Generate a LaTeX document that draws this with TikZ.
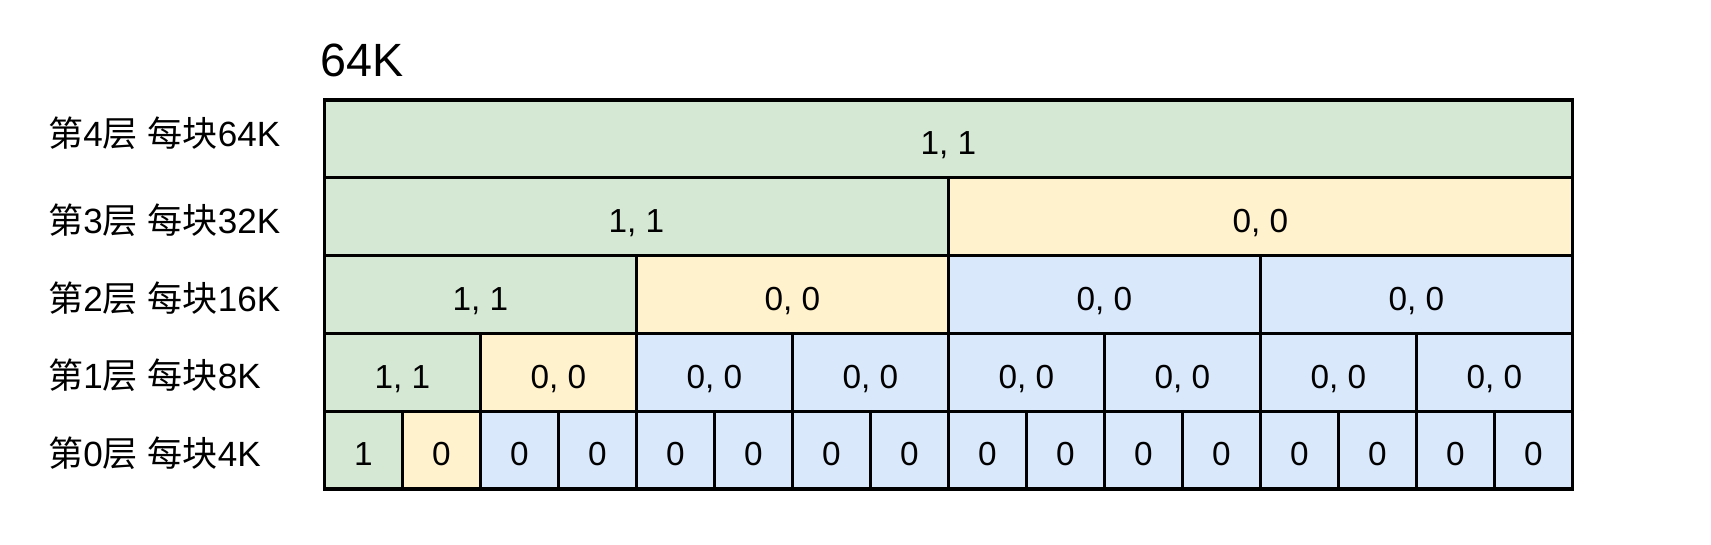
\documentclass[tikz,border=0pt]{standalone}
\usepackage{fontspec}
\setmainfont{Liberation Sans}
\newfontfamily\cjk{Noto Sans CJK SC}
\definecolor{cg}{HTML}{D5E8D4}
\definecolor{cy}{HTML}{FFF2CC}
\definecolor{cb}{HTML}{DAE8FC}
\begin{document}
\begin{tikzpicture}[x=0.75pt,y=-0.75pt]
\useasboundingbox (0,0) rectangle (1711,544);
\tikzset{
  cell/.style={draw=black, line width=2.5pt, minimum height=77.8*0.75pt, inner sep=0pt, outer sep=0pt},
  val/.style={inner sep=0pt, anchor=base, font=\fontsize{25}{30}\selectfont},
  lab/.style={inner sep=0pt, anchor=base west, font=\fontsize{26.3}{31}\selectfont},
  ttl/.style={inner sep=0pt, anchor=base west, font=\fontsize{35}{42}\selectfont}
}
\node[ttl] (title) at (320.5,76.7) {64K};
\foreach \L in {4,...,0} {
  \pgfmathtruncatemacro\n{2^(4-\L)}
  \pgfmathsetmacro\w{1248/\n}
  \pgfmathsetmacro\cyy{100+(4-\L)*77.8+38.9}
  \pgfmathtruncatemacro\last{\n-1}
  \foreach \i in {0,...,\last} {
    \ifnum\i=0 \def\cc{cg}\else\ifnum\i=1 \def\cc{cy}\else\def\cc{cb}\fi\fi
    \ifnum\L=0
      \ifnum\i=0 \def\vtxt{1}\else\def\vtxt{0}\fi
    \else
      \ifnum\i=0 \def\vtxt{1, 1}\else\def\vtxt{0, 0}\fi
    \fi
    \pgfmathsetmacro\cxx{324.3+(\i+0.5)*\w}
    \node[cell, fill=\cc, minimum width=\w*0.75pt] (c\L-\i) at (\cxx,\cyy) {};
    \node[val] (t\L-\i) at ([yshift=-11.8pt]c\L-\i.center) {\vtxt};
  }
}
\node[lab] (l4) at (48,146.7) {{\cjk 第}4{\cjk 层} {\cjk 每块}64K};
\node[lab] (l3) at (48,233.3) {{\cjk 第}3{\cjk 层} {\cjk 每块}32K};
\node[lab] (l2) at (48,311) {{\cjk 第}2{\cjk 层} {\cjk 每块}16K};
\node[lab] (l1) at (48,388.3) {{\cjk 第}1{\cjk 层} {\cjk 每块}8K};
\node[lab] (l0) at (48,466.7) {{\cjk 第}0{\cjk 层} {\cjk 每块}4K};
\end{tikzpicture}
\end{document}
